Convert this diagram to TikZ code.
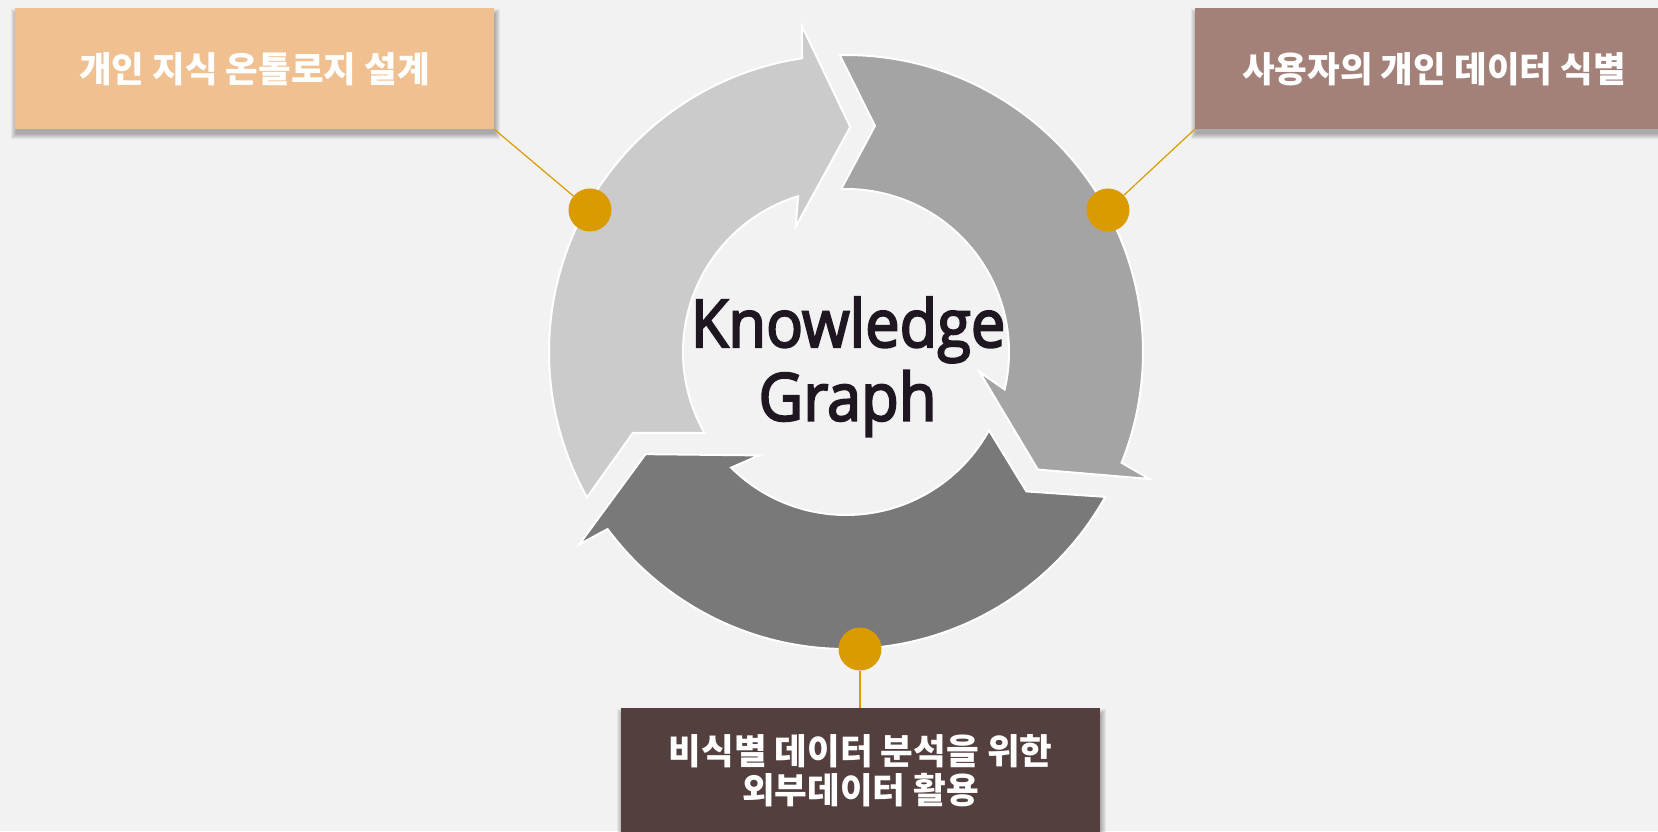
\documentclass[tikz,border=0pt]{standalone}
\usepackage{fontspec}
\setmainfont{Open Sans}
\newfontfamily\kr{Noto Sans CJK KR}
\newfontfamily\kgfont{Open Sans}[FakeBold=3.2]
\definecolor{bg}{HTML}{F2F2F2}
\definecolor{segA}{HTML}{CBCBCB}
\definecolor{segB}{HTML}{A4A4A4}
\definecolor{segC}{HTML}{797979}
\definecolor{gold}{HTML}{DA9B00}
\definecolor{boxA}{HTML}{F0C090}
\definecolor{boxB}{HTML}{A38078}
\definecolor{boxC}{HTML}{533F3E}
\definecolor{kgtext}{HTML}{1E1721}
% color, tail reference angle, head angle
\newcommand{\cycseg}[3]{%
 \path[fill=#1, draw=white, line width=2pt, line join=miter]
 ({#2+2.3}:297) arc[start angle={#2+2.3}, end angle={#3+9.6}, radius=297]
 -- ({#3+8.8}:329) -- (#3:225) -- ({#3+23}:135) -- ({#3+18.2}:163)
 arc[start angle={#3+18.2}, end angle={#2+2.8}, radius=163]
 -- ({#2-6.2}:228) -- cycle;}
\newcommand{\softshadow}[4]{%
 \foreach \s in {0,1,...,5}{%
  \fill[black, opacity=0.055] ({#1-\s+1},{#2-\s-5}) rectangle ({#3+\s+1},{#4+\s-6});}}
\begin{document}
\begin{tikzpicture}[x=1pt,y=1pt,
 labelbox/.style={minimum width=479pt, minimum height=120.5pt, inner sep=0pt, text=white,
   font=\kr\bfseries\fontsize{35.5}{39.3}\selectfont, align=center},
 dot/.style={circle, fill=gold, minimum size=43pt, inner sep=0pt},
 link/.style={draw=gold, line width=1.2pt},
 kg/.style={font=\kgfont\fontsize{66}{74}\selectfont, text=kgtext, inner sep=0pt, anchor=base}]
\useasboundingbox (0,0) rectangle (1658,831);
\fill[bg] (0,0) rectangle (1658,831);
\begin{scope}[shift={(846,479)}]
 \cycseg{segA}{207}{88.9}
 \cycseg{segB}{88.9}{-31.5}
 \cycseg{segC}{328.5}{207}
\end{scope}
\softshadow{15}{702}{494}{822.5}
\softshadow{1195}{702}{1673}{822.5}
\softshadow{621}{-2}{1100}{123}
\node[labelbox, fill=boxA] (lbox) at (254.5,762.25) {개인 지식 온톨로지 설계};
\node[labelbox, fill=boxB, minimum width=478pt] (rbox) at (1434,762.25) {사용자의 개인 데이터 식별};
\node[labelbox, fill=boxC, minimum height=125pt] (bbox) at (860.5,60.5) {비식별 데이터 분석을 위한\\외부데이터 활용};
\node[dot] (ldot) at (590,621) {};
\node[dot] (rdot) at (1108,621) {};
\node[dot] (bdot) at (860,182) {};
\draw[link] (lbox.south east) -- (ldot);
\draw[link] (rbox.south west) -- (rdot);
\draw[link] (bdot) -- (bdot |- bbox.north);
\node[kg] (kg1) at (848,484) {\scalebox{0.93}[1]{Knowledge}};
\node[kg] (kg2) at (847.5,410.4) {\scalebox{0.93}[1]{Graph}};
\end{tikzpicture}
\end{document}
